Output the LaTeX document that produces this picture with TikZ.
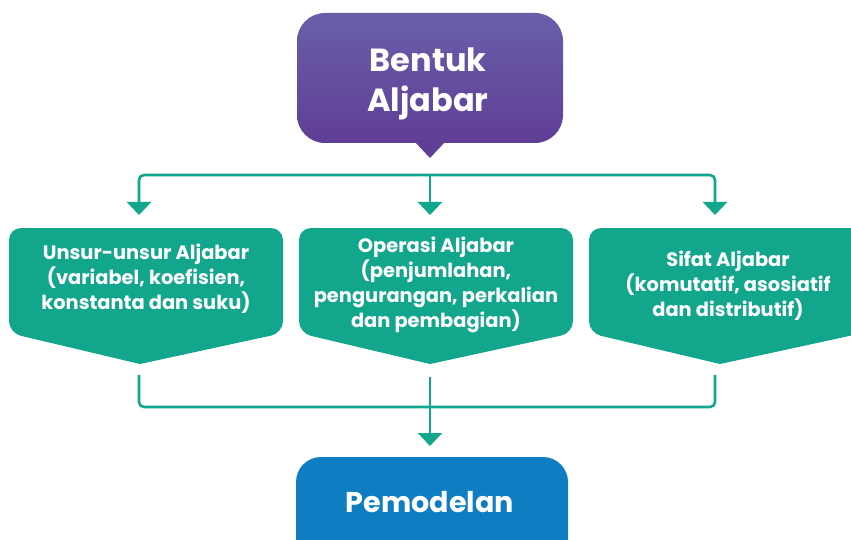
\documentclass[tikz,border=0pt]{standalone}
\usepackage{fontspec}
\setmainfont{Poppins}[BoldFont={* Bold}]
\usetikzlibrary{arrows.meta}
\definecolor{grn}{HTML}{12A68D}
\definecolor{blu}{HTML}{0E7DC2}
\definecolor{ptop}{HTML}{6A5FA9}
\definecolor{pbot}{HTML}{5F3E96}
\tikzset{
  conn/.style={draw=grn, line width=2.6pt},
  tip/.style={-{Triangle[width=24pt,length=13pt]}},
  gbox/.style={fill=grn, rounded corners=12pt},
  gtext/.style={text=white, font=\fontsize{19.4}{25}\selectfont\bfseries, align=center, anchor=base, inner sep=0pt},
  btext/.style={text=white, font=\fontsize{32}{40}\selectfont\bfseries, align=center, anchor=base, inner sep=0pt},
}
\begin{document}
\begin{tikzpicture}[x=1pt,y=-1pt]
\useasboundingbox (0,0) rectangle (851,540);
\clip (0,0) rectangle (851,540);
% top box
\shade[top color=ptop, bottom color=pbot, rounded corners=28pt] (297,13) rectangle (563,143);
\fill[pbot] (415,142) -- (445,142) -- (430,158) -- cycle;
\node[btext] (top) at (428,112) {Bentuk\\Aljabar};
% green boxes
\fill[gbox] (140,364) -- (9,333) -- (9,228) -- (283,228) -- (283,333) -- (140,364);
\fill[gbox] (430,364) -- (299,333) -- (299,228) -- (573,228) -- (573,333) -- (430,364);
\fill[gbox] (720,364) -- (589,333) -- (589,228) -- (863,228) -- (863,333) -- (720,364);
\node[gtext] (b1) at (146,309) {Unsur-unsur Aljabar\\(variabel, koefisien,\\konstanta dan suku)};
\node[gtext] (b2) at (436,327) {Operasi Aljabar\\(penjumlahan,\\pengurangan, perkalian\\dan pembagian)};
\node[gtext] (b3) at (728,316) {Sifat Aljabar\\(komutatif, asosiatif\\dan distributif)};
% blue box
\fill[blu, rounded corners=25pt] (296,457) rectangle (568,580);
\node[btext, font=\fontsize{28.6}{36}\selectfont\bfseries] (bot) at (430,512) {Pemodelan};
% connectors
\coordinate (t1) at (139,215);
\coordinate (t2) at (430,215);
\coordinate (t3) at (715,215);
\coordinate (h1) at (139,175);
\coordinate (h2) at (430,175);
\coordinate (h3) at (715,175);
\draw[conn, rounded corners=5pt, {Triangle[width=24pt,length=13pt]}-{Triangle[width=24pt,length=13pt]}] (t1) -- (h1) -- (h3) -- (t3);
\draw[conn, tip] (h2) -- (t2);
\coordinate (u1) at (139,375);
\coordinate (u2) at (430,377);
\coordinate (u3) at (715,375);
\coordinate (m) at (430,446);
\draw[conn, rounded corners=5pt] (u1) -- (139,407) -- (715,407) -- (u3);
\draw[conn, tip] (u2) -- (m);
\end{tikzpicture}
\end{document}
